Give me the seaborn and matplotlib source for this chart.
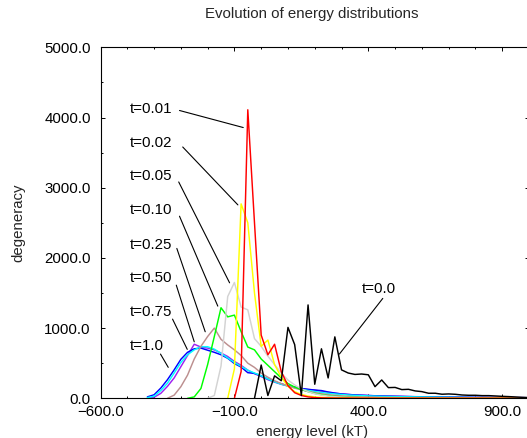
import numpy as np
import pandas as pd
import matplotlib
matplotlib.use('Agg')
import matplotlib.pyplot as plt
import matplotlib.ticker as mticker
import seaborn as sns

nan = np.nan

# energy bins (kT), 25 kT wide
energy = list(range(-450, 1001, 25))

# degeneracy per bin, one list per time
t_00 = [nan] * 17 + [0, 474, 40, 320, 250, 1010, 765, 40, 1330, 200, 705, 290, 875, 405, 360, 340,
                     346, 335, 166, 261, 152, 155, 124, 128, 105, 95, 72, 72, 58, 62, 57, 47, 43, 43,
                     38, 38, 33, 28, 24, 19, 14, 10]
t_001 = [nan] * 14 + [0, 380, 4110, 2500, 900, 620, 770, 380, 180, 80, 40, 20, 10, 6, 4, 3,
                      3, 3, 2, 2, 2, 2, 2, 2, 2, 2, 2, 2, 2, 1, 1, 1, 1, 1, 1, 1, 1, 1, 1, 1, 1,
                      1, 1, 1, 1]
t_002 = [nan] * 13 + [0, 420, 2770, 2500, 1500, 740, 830, 480, 300, 170, 95, 55, 32, 20, 13, 9, 6, 5,
                      4, 4, 3, 3, 3, 3, 3, 2, 2, 2, 2, 2, 2, 2, 2, 2, 2, 2, 1, 1, 1, 1, 1, 1, 1,
                      1, 1, 1]
t_005 = [nan] * 10 + [0, 40, 460, 1450, 1650, 1300, 1260, 850, 740, 600, 480, 360, 260, 190, 135, 95,
                      65, 45, 32, 23, 17, 13, 10,
                      8, 7, 6, 6, 5, 5, 4, 4, 4, 3, 3, 3, 3, 3, 2, 2, 2, 2, 2, 2, 2, 2, 2, 1, 1, 1]
t_010 = [nan] * 7 + [0, 20, 140, 480, 880, 1290, 1160, 1185, 950, 730, 690, 560, 470, 380, 290, 210,
                     160, 125, 95, 70, 52, 38, 28, 21, 16, 12,
                     10, 9, 8, 7, 6, 6, 5, 5, 4, 4, 4, 3, 3, 3, 3, 3, 2, 2, 2, 2, 2, 2, 2, 2, 2, 2]
t_025 = [nan] * 4 + [0, 45, 165, 330, 560, 740, 880, 1000, 840, 760, 690, 610, 500, 440, 360, 300,
                     250, 210, 175, 145, 120, 100, 82, 66, 53, 43, 35, 28, 23, 19,
                     16, 14, 12, 11, 10, 9, 8, 7, 7, 6, 6, 5, 5, 5, 4, 4, 4, 4, 3, 3, 3, 3, 3, 3, 2]
t_050 = [nan] + [0, 15, 70, 170, 290, 450, 610, 770, 730, 715, 690, 645, 595, 525, 470, 400, 350,
                 310, 265, 230,
                 200, 175, 155, 140, 125, 115, 100, 85, 72, 62, 54, 48, 43, 39, 36, 33, 30, 28, 26,
                 24, 22, 21, 20, 19, 18, 17, 16, 15, 14, 13, 12, 12, 11, 10, 10, 9, 9, 8]
t_075 = [nan] + [10, 30, 110, 215, 360, 510, 620, 690, 735, 735, 700, 640, 575, 510, 455, 400, 360,
                 320, 275, 235,
                 200, 175, 150, 130, 112, 97, 83, 71, 62, 54, 47, 42, 38, 34, 31, 28, 26, 24, 22,
                 21, 20, 19, 18, 17, 16, 15, 14, 13, 12, 11, 10, 10, 9, 9, 8, 8, 7, 7]
t_100 = [nan] + [20, 50, 145, 265, 405, 555, 655, 705, 715, 685, 655, 620, 570, 495, 445, 365, 355,
                 320, 275, 240,
                 205, 180, 160, 140, 128, 118, 110, 90, 75, 62, 55, 48, 44, 40, 36, 33, 31, 29, 27,
                 25, 23, 22, 21, 20, 19, 18, 17, 16, 15, 14, 13, 12, 11, 11, 10, 9, 9, 8]

# drawing order: first drawn ends up underneath
times = ['t=0.50', 't=1.0', 't=0.75', 't=0.25', 't=0.10', 't=0.05', 't=0.02', 't=0.01', 't=0.0']
series = [t_050, t_100, t_075, t_025, t_010, t_005, t_002, t_001, t_00]
colors = ['#a020f0', '#0000ff', '#00ffff', '#bc8f8f', '#00ff00', '#d3d3d3', '#ffff00', '#ff0000', '#000000']

# curve labels and their leader lines
lab_text = ['t=0.01', 't=0.02', 't=0.05', 't=0.10', 't=0.25', 't=0.50', 't=0.75', 't=1.0', 't=0.0']
lab_x = [-490, -490, -490, -490, -490, -490, -490, -490, 375]
lab_y = [4120, 3630, 3170, 2680, 2190, 1710, 1225, 745, 1550]
lead_x0 = [-305, -293, -308, -305, -315, -317, -331, -376, 454]
lead_y0 = [4100, 3580, 3082, 2594, 2135, 1612, 1128, 630, 1423]
lead_x1 = [-67, -87, -118, -162, -209, -250, -276, -347, 292]
lead_y1 = [3857, 2755, 1645, 1313, 948, 805, 697, 441, 630]

x_ticks = [-600, -100, 400, 900]

rows = []
for name, vals in zip(times, series):
    assert len(vals) == len(energy), name
    for e, v in zip(energy, vals):
        rows.append((e, v, name))
df = pd.DataFrame(rows, columns=['energy', 'degeneracy', 'time']).dropna()

sns.set_style('ticks')
plt.rcParams['font.family'] = ['Liberation Sans', 'DejaVu Sans']
plt.rcParams['font.size'] = 10.8

fig = plt.figure(figsize=(5.27, 4.38), dpi=100)
ax = fig.add_axes([100.5 / 527, (438 - 398.3) / 438, 428.5 / 527, 351 / 438])

sns.lineplot(data=df, x='energy', y='degeneracy', hue='time', hue_order=times,
             palette=dict(zip(times, colors)), estimator=None, sort=False,
             legend=False, lw=1.05, ax=ax)

for txt, x, y, x0, y0, x1, y1 in zip(lab_text, lab_x, lab_y, lead_x0, lead_y0, lead_x1, lead_y1):
    ax.text(x, y, txt, ha='left', va='center', fontsize=10.8, color='black')
    ax.annotate('', xy=(x1, y1), xytext=(x0, y0),
                arrowprops=dict(arrowstyle='-', color='black', lw=0.8, shrinkA=0, shrinkB=0))

ax.set_xlim(-600, 1000)
ax.set_ylim(0, 5000)
ax.xaxis.set_major_locator(mticker.FixedLocator(x_ticks))
ax.xaxis.set_minor_locator(mticker.MultipleLocator(100))
ax.yaxis.set_major_locator(mticker.MultipleLocator(1000))
ax.yaxis.set_minor_locator(mticker.MultipleLocator(500))
ax.xaxis.set_major_formatter(mticker.FuncFormatter(lambda v, _: f'{v:.1f}'.replace('-', '\u2212')))
ax.yaxis.set_major_formatter(mticker.FuncFormatter(lambda v, _: f'{v:.1f}'))
ax.tick_params(which='both', direction='in', top=True, right=True, colors='black',
               labelsize=10.8, width=0.7)
ax.tick_params(which='major', length=3.0)
ax.tick_params(which='minor', length=1.7)
ax.tick_params(axis='x', pad=5.0)
ax.tick_params(axis='y', pad=7.0)
for sp in ax.spines.values():
    sp.set_color('black')
    sp.set_linewidth(0.8)
ax.set_xlabel('')
ax.set_ylabel('')

fig.text(312 / 527, 1 - 14 / 438, 'Evolution of energy distributions', ha='center', va='center', fontsize=10.8)
fig.text(312 / 527, 1 - 432 / 438, 'energy level (kT)', ha='center', va='center', fontsize=10.8)
fig.text(18 / 527, 1 - 223 / 438, 'degeneracy', ha='center', va='center', rotation=90, fontsize=10.8)

fig.savefig('out.png', dpi=100)
